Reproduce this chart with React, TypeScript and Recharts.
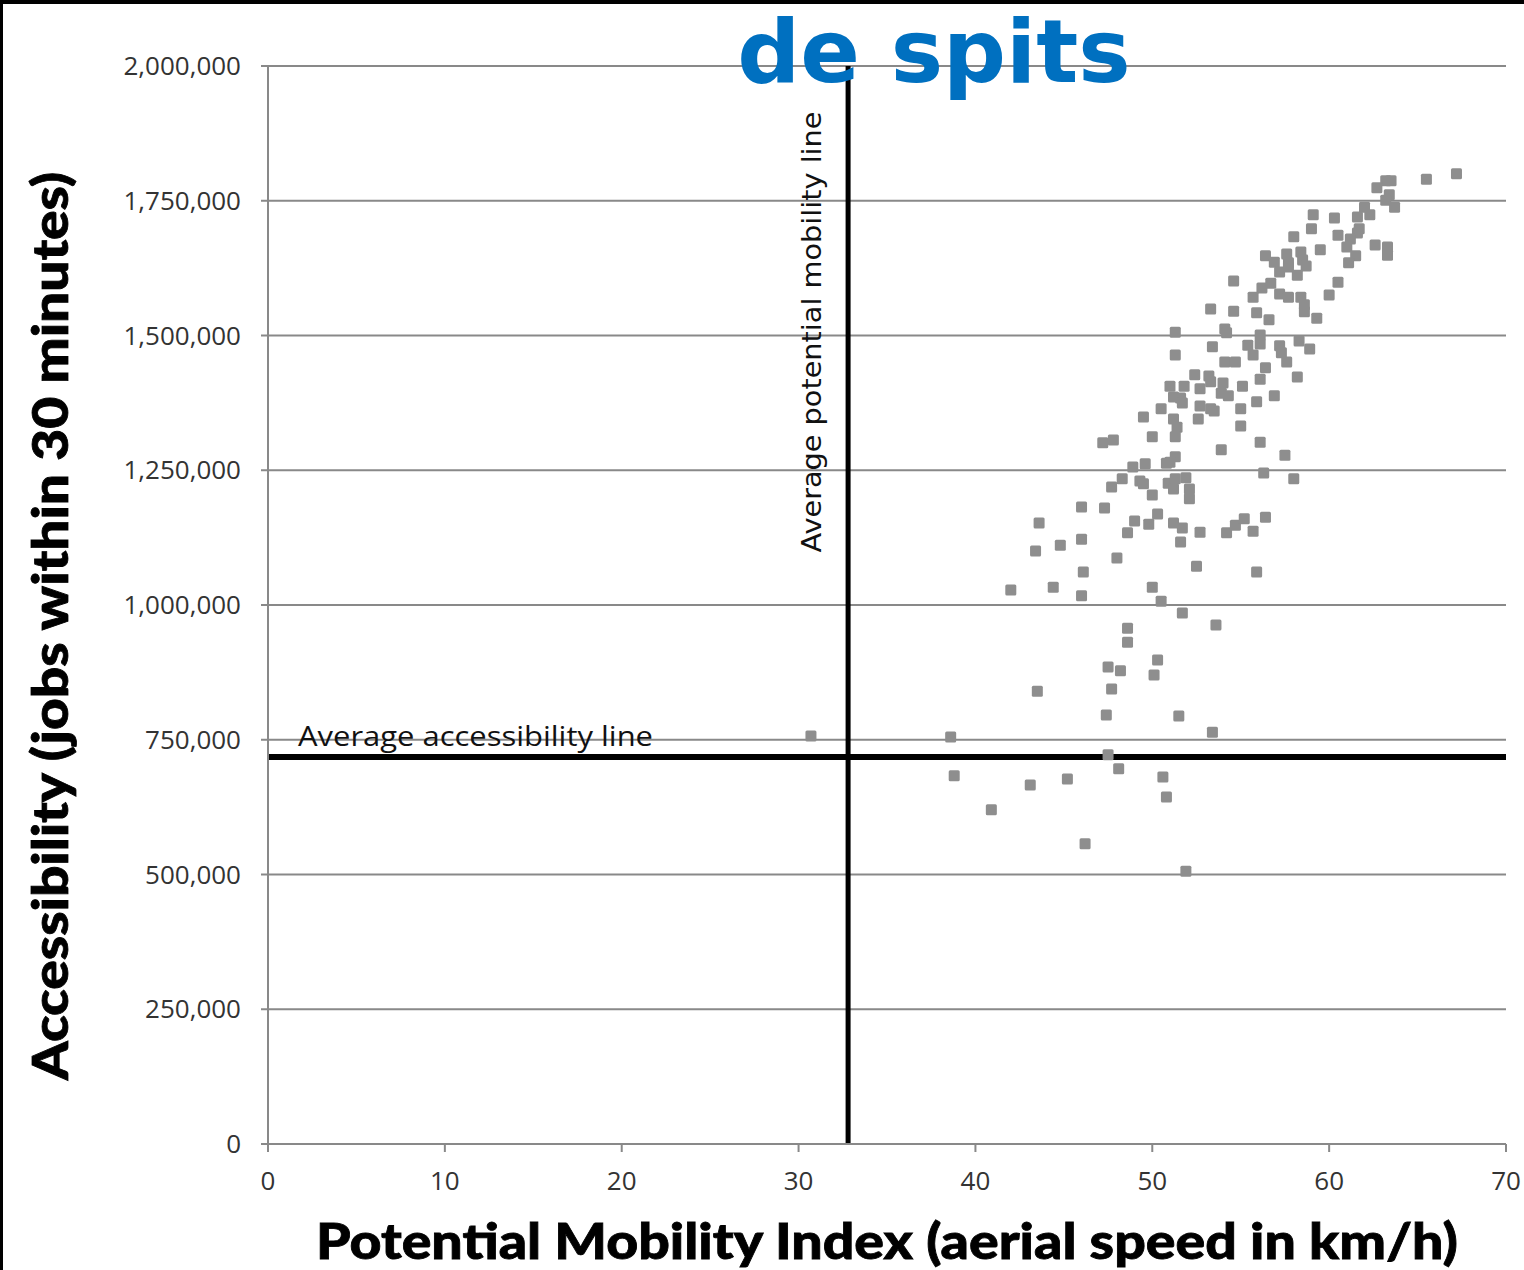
import React from 'react';
import { ScatterChart, Scatter, XAxis, YAxis, CartesianGrid, ReferenceLine } from 'recharts';

const chartTitle = 'de spits';
const xAxisTitle = 'Potential Mobility Index (aerial speed in km/h)';
const yAxisTitle = 'Accessibility (jobs within 30 minutes)';
const avgAccessLabel = 'Average accessibility line';
const avgMobilityLabel = 'Average potential mobility line';

const xTicks = [0, 10, 20, 30, 40, 50, 60, 70];
const yTicks = [0, 250000, 500000, 750000, 1000000, 1250000, 1500000, 1750000, 2000000];

const avgMobility = 32.8;
const avgAccessibility = 718000;

const mobilityIndex = [
  30.7, 38.6, 38.8, 40.9, 43.1, 45.2, 46.2, 47.5, 48.1, 50.6,
  50.8, 51.9, 53.4, 51.5, 47.4, 43.5, 47.7, 47.5, 48.2, 50.1,
  50.3, 48.6, 48.6, 53.6, 51.7, 50.5, 50.0, 42.0, 44.4, 46.0,
  46.1, 48.0, 52.5, 55.9, 43.4, 44.8, 46.0, 43.6, 46.0, 47.3,
  50.5, 52.7, 53.3, 53.5, 55.0, 49.5, 51.2, 52.6, 51.4, 55.0,
  50.0, 51.3, 47.8, 47.2, 56.1, 53.9, 57.5, 51.3, 50.8, 51.0,
  49.6, 48.9, 56.3, 58.0, 48.3, 49.3, 49.5, 50.9, 51.3, 51.9,
  51.2, 52.1, 47.7, 50.0, 52.1, 50.3, 49.0, 49.8, 51.2, 51.7,
  52.7, 54.2, 54.7, 55.2, 56.4, 55.7, 48.6, 51.6, 56.1, 58.2,
  52.4, 53.2, 53.3, 52.7, 51.0, 51.8, 54.0, 55.1, 56.9, 55.9,
  51.2, 51.6, 51.7, 53.9, 54.3, 67.2, 65.5, 63.2, 63.5, 62.7,
  63.4, 63.2, 63.7, 62.0, 62.3, 61.6, 59.1, 60.3, 59.0, 61.7,
  61.6, 60.5, 58.0, 61.2, 61.0, 61.5, 61.1, 62.6, 63.3, 63.3,
  59.5, 58.4, 57.6, 56.4, 56.9, 58.5, 58.7, 57.7, 57.2, 57.7,
  58.2, 56.7, 56.2, 55.7, 54.6, 57.2, 57.7, 58.4, 58.6, 58.6,
  59.3, 60.0, 60.5, 53.3, 54.6, 55.9, 56.6, 51.3, 54.1, 54.2,
  56.1, 58.3, 58.9, 51.3, 53.4, 55.4, 56.1, 55.7, 57.2, 57.3,
  57.6, 54.1, 54.7, 56.4,
];

const accessibility = [
  757000, 755000, 683000, 620000, 666000, 677000, 557000, 722000, 696000, 681000,
  644000, 506000, 764000, 794000, 796000, 840000, 844000, 885000, 878000, 870000,
  898000, 931000, 957000, 963000, 985000, 1007000, 1033000, 1028000, 1033000, 1017000,
  1061000, 1087000, 1072000, 1061000, 1100000, 1111000, 1122000, 1152000, 1182000, 1180000,
  1364000, 1369000, 1364000, 1360000, 1364000, 1349000, 1345000, 1345000, 1330000, 1332000,
  1312000, 1312000, 1306000, 1301000, 1302000, 1288000, 1278000, 1275000, 1263000, 1265000,
  1262000, 1256000, 1245000, 1234000, 1234000, 1230000, 1225000, 1226000, 1234000, 1236000,
  1215000, 1215000, 1219000, 1204000, 1197000, 1169000, 1156000, 1150000, 1152000, 1143000,
  1135000, 1134000, 1148000, 1160000, 1163000, 1137000, 1134000, 1117000, 1419000, 1423000,
  1427000, 1425000, 1414000, 1401000, 1406000, 1406000, 1412000, 1406000, 1388000, 1377000,
  1386000, 1384000, 1375000, 1393000, 1388000, 1800000, 1790000, 1787000, 1787000, 1774000,
  1761000, 1751000, 1738000, 1738000, 1724000, 1720000, 1724000, 1718000, 1698000, 1698000,
  1690000, 1686000, 1683000, 1679000, 1664000, 1648000, 1635000, 1668000, 1664000, 1649000,
  1659000, 1655000, 1651000, 1648000, 1636000, 1640000, 1629000, 1635000, 1618000, 1627000,
  1612000, 1597000, 1588000, 1571000, 1601000, 1577000, 1571000, 1571000, 1557000, 1544000,
  1532000, 1575000, 1599000, 1549000, 1545000, 1542000, 1529000, 1506000, 1512000, 1505000,
  1501000, 1490000, 1475000, 1464000, 1479000, 1482000, 1484000, 1464000, 1481000, 1468000,
  1451000, 1451000, 1451000, 1440000,
];

const points = mobilityIndex.map((x, i) => ({ x, y: accessibility[i] }));

const GRID = '#898989';
const MARKER = '#8E8E8E';

const SquareMarker = (props: any) => {
  const { cx, cy } = props;
  if (cx == null || cy == null) return null;
  return <rect x={cx - 5.5} y={cy - 5.5} width={11} height={11} rx={1.5} ry={1.5} fill={MARKER} />;
};

const YTitle = (props: any) => {
  const vb = props.viewBox || { x: 0, y: 66, width: 268, height: 1078 };
  const cx = vb.x + 68;
  const cy = vb.y + vb.height / 2 + 21;
  return (
    <text
      x={cx}
      y={cy}
      transform={`rotate(-90, ${cx}, ${cy})`}
      textAnchor="middle"
      fontFamily="Lato, 'Open Sans', sans-serif"
      fontWeight={900}
      fontSize={50}
      fill="#000"
      stroke="#000"
      strokeWidth={0.8}
      textLength={908}
      lengthAdjust="spacingAndGlyphs"
    >
      {yAxisTitle}
    </text>
  );
};

const XTitle = (props: any) => {
  const vb = props.viewBox || { x: 268, y: 1144, width: 1238, height: 126 };
  return (
    <text
      x={vb.x + vb.width / 2}
      y={vb.y + 115}
      textAnchor="middle"
      fontFamily="Lato, 'Open Sans', sans-serif"
      fontWeight={900}
      fontSize={50}
      fill="#000"
      stroke="#000"
      strokeWidth={0.8}
      textLength={1142}
      lengthAdjust="spacingAndGlyphs"
    >
      {xAxisTitle}
    </text>
  );
};

const HLineLabel = (props: any) => {
  const vb = props.viewBox || { x: 268, y: 757 };
  return (
    <text
      x={vb.x + 30}
      y={vb.y - 11}
      fontFamily="'Open Sans', sans-serif"
      fontSize={28}
      fill="#111"
      textLength={355}
      lengthAdjust="spacingAndGlyphs"
    >
      {avgAccessLabel}
    </text>
  );
};

const VLineLabel = (props: any) => {
  const vb = props.viewBox || { x: 848, y: 66 };
  const cx = vb.x - 27;
  const cy = 332;
  return (
    <text
      x={cx}
      y={cy}
      transform={`rotate(-90, ${cx}, ${cy})`}
      textAnchor="middle"
      fontFamily="'DejaVu Sans', sans-serif"
      fontSize={27}
      fill="#111"
      textLength={441}
      lengthAdjust="spacingAndGlyphs"
    >
      {avgMobilityLabel}
    </text>
  );
};

const fmt = (v: number) => v.toLocaleString('en-US');

export default function App() {
  return (
    <div style={{ position: 'absolute', left: 0, top: 0, width: 1524, height: 1270, background: '#fff', overflow: 'hidden' }}>
      <ScatterChart width={1524} height={1270} margin={{ top: 66, right: 18, bottom: 0, left: 0 }}>
        <CartesianGrid horizontal={true} vertical={false} stroke={GRID} strokeWidth={2} />
        <XAxis
          type="number"
          dataKey="x"
          domain={[0, 70]}
          ticks={xTicks}
          interval={0}
          height={126}
          tickSize={8}
          tickMargin={20}
          axisLine={{ stroke: GRID, strokeWidth: 2 }}
          tickLine={{ stroke: GRID, strokeWidth: 2 }}
          tick={{ fill: '#333', fontSize: 26, fontFamily: "'Open Sans', sans-serif" }}
          label={<XTitle />}
        />
        <YAxis
          type="number"
          dataKey="y"
          domain={[0, 2000000]}
          ticks={yTicks}
          interval={0}
          width={268}
          tickSize={7}
          tickMargin={20}
          tickFormatter={fmt}
          axisLine={{ stroke: GRID, strokeWidth: 2 }}
          tickLine={{ stroke: GRID, strokeWidth: 2 }}
          tick={{ fill: '#333', fontSize: 26, fontFamily: "'Open Sans', sans-serif" }}
          label={<YTitle />}
        />
        <ReferenceLine y={avgAccessibility} stroke="#000" strokeWidth={6} label={<HLineLabel />} />
        <ReferenceLine x={avgMobility} stroke="#000" strokeWidth={5} label={<VLineLabel />} />
        <Scatter data={points} shape={<SquareMarker />} isAnimationActive={false} />
      </ScatterChart>
      <svg width={1524} height={1270} style={{ position: 'absolute', left: 0, top: 0, pointerEvents: 'none' }}>
        <text
          x={934}
          y={82}
          textAnchor="middle"
          fontFamily="'DejaVu Sans', sans-serif"
          fontWeight={700}
          fontSize={88}
          fill="#0070C0"
        >
          {chartTitle}
        </text>
        <rect x={0} y={0} width={1524} height={4} fill="#000" />
        <rect x={0} y={0} width={3} height={1270} fill="#000" />
      </svg>
    </div>
  );
}
